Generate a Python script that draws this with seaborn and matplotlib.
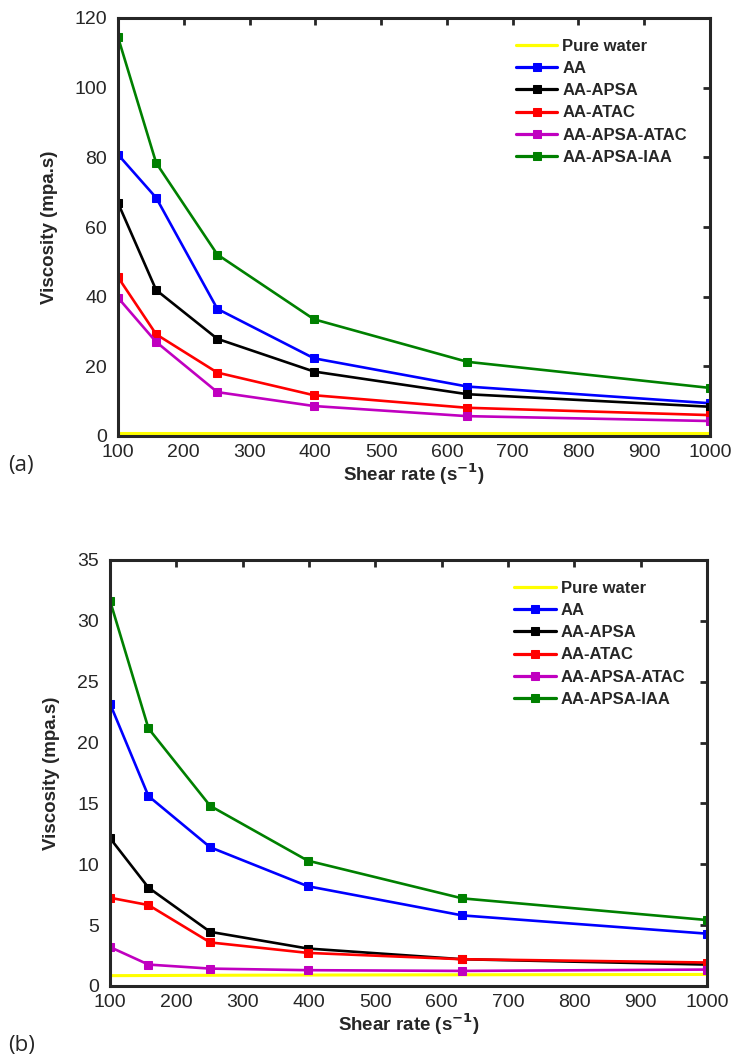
import numpy as np
import pandas as pd
import matplotlib
matplotlib.use("Agg")
import matplotlib.pyplot as plt
import seaborn as sns

# shear rates (s^-1), log spaced
shear_rate = [100, 158, 251, 398, 631, 1000]

series_names = ["Pure water", "AA", "AA-APSA", "AA-ATAC", "AA-APSA-ATAC", "AA-APSA-IAA"]
series_colors = ["#ffff00", "#0000ff", "#000000", "#ff0000", "#c000c0", "#008000"]

# panel (a)
visc_a_water = [0.9, 0.9, 0.9, 0.9, 0.9, 0.9]
visc_a_aa = [80.8, 68.4, 36.5, 22.3, 14.2, 9.4]
visc_a_apsa = [66.9, 41.9, 27.9, 18.5, 12.0, 8.4]
visc_a_atac = [45.6, 29.2, 18.2, 11.7, 8.1, 6.0]
visc_a_apsa_atac = [39.7, 27.0, 12.6, 8.6, 5.7, 4.3]
visc_a_apsa_iaa = [114.5, 78.4, 52.1, 33.5, 21.3, 13.8]

# panel (b)
visc_b_water = [0.85, 0.86, 0.88, 0.9, 0.92, 0.95]
visc_b_aa = [23.2, 15.6, 11.4, 8.2, 5.8, 4.3]
visc_b_apsa = [12.15, 8.08, 4.45, 3.08, 2.2, 1.76]
visc_b_atac = [7.25, 6.65, 3.58, 2.72, 2.2, 1.93]
visc_b_apsa_atac = [3.2, 1.76, 1.43, 1.3, 1.24, 1.35]
visc_b_apsa_iaa = [31.66, 21.16, 14.8, 10.3, 7.2, 5.42]

sns.set_style("white")
plt.rcParams['font.family'] = ['Liberation Sans', 'DejaVu Sans']


def make_df(vals_list):
    rows = []
    for name, vals in zip(series_names, vals_list):
        for x, y in zip(shear_rate, vals):
            rows.append({"shear": x, "visc": y, "sample": name})
    return pd.DataFrame(rows)


def draw_panel(ax, df, ymax, ystep, leg_anchor):
    for name, col in zip(series_names, series_colors):
        sub = df[df["sample"] == name]
        if name == "Pure water":
            sns.lineplot(data=sub, x="shear", y="visc", ax=ax, color=col,
                         linewidth=2.2, label=name)
        else:
            sns.lineplot(data=sub, x="shear", y="visc", ax=ax, color=col,
                         linewidth=1.9, marker="s", markersize=6,
                         markeredgecolor=col, label=name)
    ax.set_xlim(100, 1000)
    ax.set_ylim(0, ymax)
    ax.set_xticks(np.arange(100, 1001, 100))
    ax.set_yticks(np.arange(0, ymax + 0.1, ystep))
    ax.tick_params(direction="in", length=5, width=2, labelsize=14,
                   top=True, right=True, colors="#262626")
    ax.tick_params(axis="x", pad=6)
    ax.tick_params(axis="y", pad=8)
    for sp in ax.spines.values():
        sp.set_linewidth(2.2)
        sp.set_color("#262626")
    ax.set_xlabel("Shear rate (s$^{\\mathbf{-1}}$)", fontsize=13.5, fontweight="bold",
                  color="#262626", labelpad=0)
    ax.set_ylabel("Viscosity (mpa.s)", fontsize=13.5, fontweight="bold",
                  color="#262626", labelpad=12)
    leg = ax.legend(loc="upper left", frameon=False, prop={"weight": "bold", "size": 12},
                    handlelength=2.5, handletextpad=0.3, labelspacing=0.43,
                    borderpad=0.0, borderaxespad=0.0, bbox_to_anchor=leg_anchor)
    for line in leg.get_lines():
        line.set_linewidth(2.3)


fig = plt.figure(figsize=(7.32, 10.6), dpi=100)
ax1 = fig.add_axes([118 / 732, 1 - 436 / 1060, (710 - 118) / 732, (436 - 18) / 1060])
ax2 = fig.add_axes([110 / 732, 1 - 986 / 1060, (707 - 110) / 732, (986 - 560) / 1060])

draw_panel(ax1, make_df([visc_a_water, visc_a_aa, visc_a_apsa, visc_a_atac,
                         visc_a_apsa_atac, visc_a_apsa_iaa]), 120, 20, (0.672, 0.950))
draw_panel(ax2, make_df([visc_b_water, visc_b_aa, visc_b_apsa, visc_b_atac,
                         visc_b_apsa_atac, visc_b_apsa_iaa]), 35, 5, (0.677, 0.951))

fig.text(8 / 732, 1 - 466 / 1060, "(a)", fontsize=16, va="center", ha="left",
         family=["Open Sans", "DejaVu Sans"])
fig.text(8 / 732, 1 - 1046 / 1060, "(b)", fontsize=16, va="center", ha="left",
         family=["Open Sans", "DejaVu Sans"])

fig.savefig("out.png", dpi=100)
